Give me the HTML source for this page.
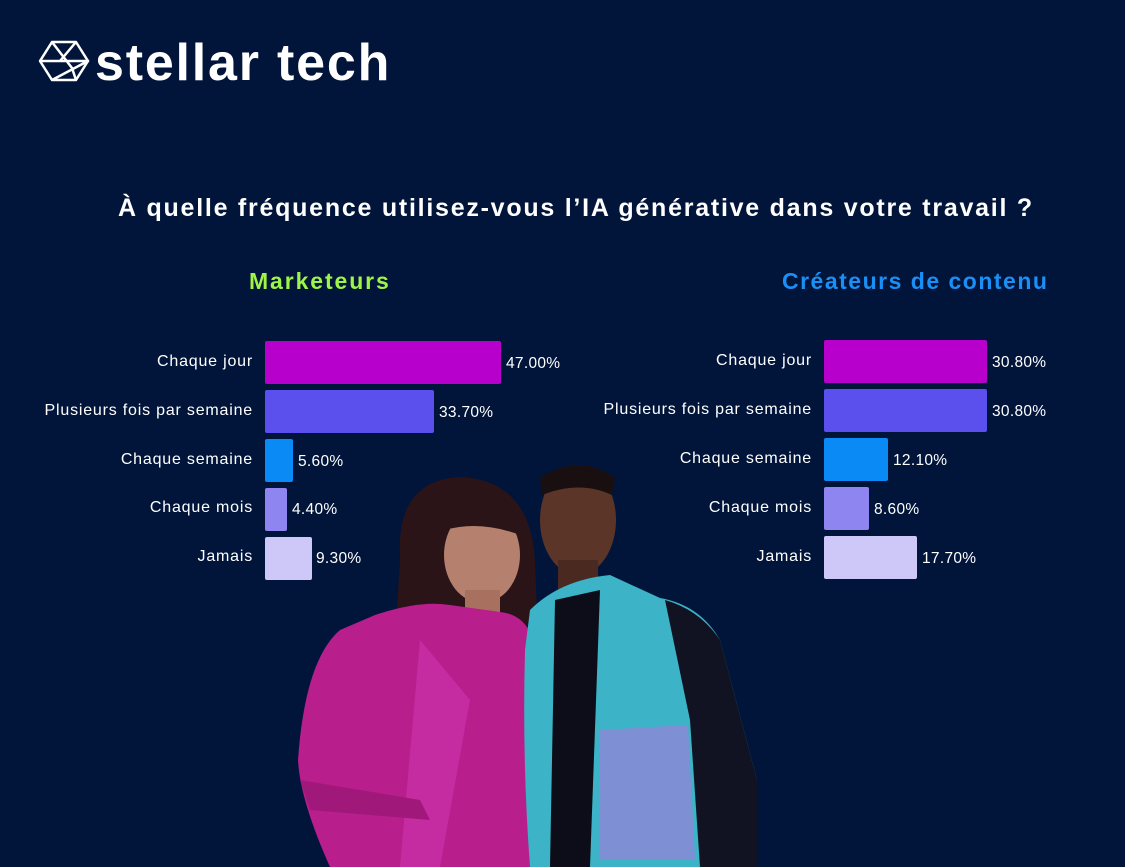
<!DOCTYPE html>
<html><head><meta charset="utf-8"><style>
html,body{margin:0;padding:0;}
body{width:1125px;height:867px;background:#01143a;position:relative;overflow:hidden;font-family:"Liberation Sans",sans-serif;color:#fff;}
.t{position:absolute;white-space:nowrap;}
.lab{position:absolute;font-size:16px;text-align:right;width:300px;line-height:20px;letter-spacing:0.8px;}
.val{position:absolute;font-size:15.5px;line-height:20px;letter-spacing:0.3px;}
.bar{position:absolute;height:43px;border-radius:2px;}
</style></head><body>
<svg style="position:absolute;left:0;top:0" width="1125" height="867">
 <g fill="none" stroke="#fff" stroke-width="2.5" stroke-linejoin="round">
  <polygon points="52,42 76,42 88,61 76,80 52,80 40,61"/>
  <polyline points="52,42 72,68 76,80"/>
  <polyline points="40,61 88,61 52,80"/>
  <polyline points="76,42 60,61"/>
 </g>
 <path d="M400,560 Q395,480 460,477 Q530,480 535,560 L538,640 L395,640 Z" fill="#2a1418"/>
 <ellipse cx="482" cy="555" rx="38" ry="48" fill="#b5806e"/>
 <path d="M445,510 Q480,495 520,515 L520,535 Q480,520 445,530 Z" fill="#2a1418"/>
 <rect x="465" y="590" width="35" height="30" fill="#a8705e"/>
 <path d="M375,615 Q420,600 450,605 L500,612 Q530,615 535,650 L530,867 L330,867 Q300,800 298,760 Q305,660 340,630 Z" fill="#b81e8c"/>
 <path d="M420,640 L470,700 L440,867 L400,867 Z" fill="#d23ab8" opacity=".5"/>
 <path d="M300,780 L420,800 L430,820 L310,810 Z" fill="#a0187a"/>
 <ellipse cx="578" cy="520" rx="38" ry="55" fill="#5a3528"/>
 <path d="M540,478 Q580,452 615,478 L612,495 Q580,480 542,495 Z" fill="#1a0f10"/>
 <rect x="558" y="560" width="40" height="30" fill="#4a2a20"/>
 <path d="M530,610 Q560,580 610,575 L660,598 Q700,605 720,640 L757,780 L757,867 L530,867 Q522,760 525,650 Z" fill="#3cb3c6"/>
 <path d="M555,600 L600,590 L590,867 L550,867 Z" fill="#0c0d18"/>
 <path d="M665,600 Q700,610 720,640 L757,780 L757,867 L700,867 L690,720 Z" fill="#111322"/>
 <path d="M600,730 L688,725 L695,860 L600,860 Z" fill="#9a80d8" opacity=".7"/>
</svg>
<div class="t" style="left:95px;top:33px;font-size:52px;font-weight:bold;letter-spacing:1.8px;">stellar tech</div>
<div class="t" style="left:118px;top:194px;font-size:25px;font-weight:bold;letter-spacing:1.75px;">À quelle fréquence utilisez-vous l’IA générative dans votre travail ?</div>
<div class="t" style="left:249px;top:268px;font-size:23px;font-weight:bold;color:#9ef545;letter-spacing:1.9px;">Marketeurs</div>
<div class="t" style="left:782px;top:268px;font-size:23px;font-weight:bold;color:#1a8ff5;letter-spacing:1.5px;">Créateurs de contenu</div>

<div class="lab" style="left:-47px;top:352px">Chaque jour</div>
<div class="lab" style="left:-47px;top:401px">Plusieurs fois par semaine</div>
<div class="lab" style="left:-47px;top:450px">Chaque semaine</div>
<div class="lab" style="left:-47px;top:498px">Chaque mois</div>
<div class="lab" style="left:-47px;top:547px">Jamais</div>
<div class="bar" style="left:265px;top:341px;width:236px;background:#b800cc"></div>
<div class="bar" style="left:265px;top:390px;width:169px;background:#5b4fee"></div>
<div class="bar" style="left:265px;top:439px;width:28px;background:#0a8af5"></div>
<div class="bar" style="left:265px;top:488px;width:22px;background:#8f85f0"></div>
<div class="bar" style="left:265px;top:537px;width:47px;background:#cdc8f7"></div>
<div class="val" style="left:506px;top:354px">47.00%</div>
<div class="val" style="left:439px;top:403px">33.70%</div>
<div class="val" style="left:298px;top:452px">5.60%</div>
<div class="val" style="left:292px;top:500px">4.40%</div>
<div class="val" style="left:316px;top:549px">9.30%</div>

<div class="lab" style="left:512px;top:351px">Chaque jour</div>
<div class="lab" style="left:512px;top:400px">Plusieurs fois par semaine</div>
<div class="lab" style="left:512px;top:449px">Chaque semaine</div>
<div class="lab" style="left:512px;top:498px">Chaque mois</div>
<div class="lab" style="left:512px;top:547px">Jamais</div>
<div class="bar" style="left:824px;top:340px;width:163px;background:#b800cc"></div>
<div class="bar" style="left:824px;top:389px;width:163px;background:#5b4fee"></div>
<div class="bar" style="left:824px;top:438px;width:64px;background:#0a8af5"></div>
<div class="bar" style="left:824px;top:487px;width:45px;background:#8f85f0"></div>
<div class="bar" style="left:824px;top:536px;width:93px;background:#cdc8f7"></div>
<div class="val" style="left:992px;top:353px">30.80%</div>
<div class="val" style="left:992px;top:402px">30.80%</div>
<div class="val" style="left:893px;top:451px">12.10%</div>
<div class="val" style="left:874px;top:500px">8.60%</div>
<div class="val" style="left:922px;top:549px">17.70%</div>
</body></html>
